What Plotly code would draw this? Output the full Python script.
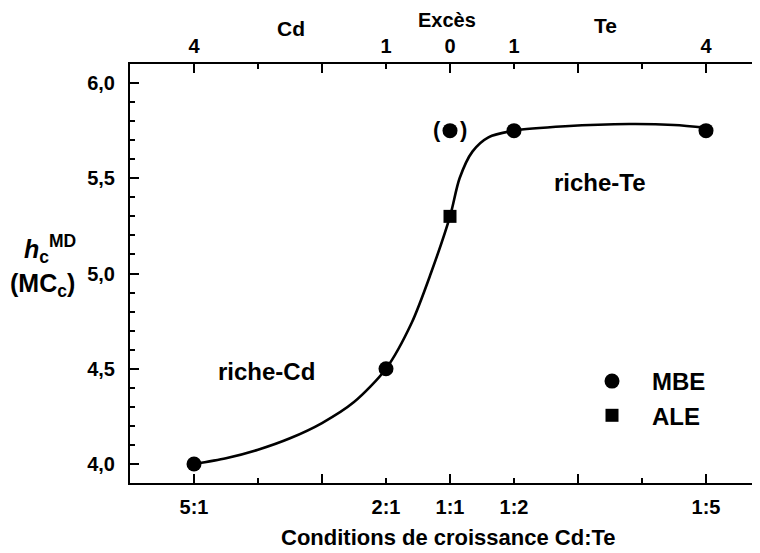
import plotly.graph_objects as go

# ---------------- data ----------------
mbe_x = [-4, -1, 1, 4]
mbe_y = [4.0, 4.5, 5.75, 5.75]
mbe_doubtful_x = [0]
mbe_doubtful_y = [5.75]
ale_x = [0]
ale_y = [5.3]
curve_x = [-4, -3.5, -3.0, -2.5, -2.0, -1.5, -1.0, -0.6, -0.3, 0.0, 0.15, 0.35, 0.6, 1.0, 1.8, 2.8, 3.5, 4.0]
curve_y = [4.0, 4.03, 4.075, 4.135, 4.215, 4.325, 4.5, 4.74, 5.0, 5.30, 5.50, 5.64, 5.715, 5.75, 5.773, 5.785, 5.78, 5.765]
tick_vals = [-4, -1, 0, 1, 4]
ratio_labels = ["5:1", "2:1", "1:1", "1:2", "1:5"]
excess_labels = ["4", "1", "0", "1", "4"]

# ---------------- layout helpers ----------------
OFF = 8                      # default page body margin
WIN_W, WIN_H = 760, 553
W, H = WIN_W - OFF, WIN_H - OFF
PL, PT, PB = 130, 64, 483    # plot area edges in window pixels
L, R, T, B = PL - OFF, 0, PT - OFF, WIN_H - PB
PW, PH = W - L - R, H - T - B
FONT = "Liberation Sans, Arial, sans-serif"
XR = [-5, -5 + PW / 64.0]
YR = [3.9, 6.1]


def py(p):
    return (PB - p) / PH


def px(p):
    return (p - PL) / PW


fig = go.Figure()
fig.add_trace(go.Scatter(x=curve_x, y=curve_y, mode="lines",
                         line=dict(color="black", width=2.6, shape="spline", smoothing=0.8),
                         showlegend=False, hoverinfo="skip"))
fig.add_trace(go.Scatter(x=mbe_x, y=mbe_y, mode="markers", name="MBE",
                         marker=dict(symbol="circle", size=15, color="black"),
                         legendgroup="a"))
fig.add_trace(go.Scatter(x=mbe_doubtful_x, y=mbe_doubtful_y, mode="markers", name="MBE",
                         marker=dict(symbol="circle", size=15, color="black"),
                         showlegend=False))
fig.add_trace(go.Scatter(x=ale_x, y=ale_y, mode="markers", name="ALE",
                         marker=dict(symbol="square", size=13, color="black"),
                         legendgroup="b"))

axis_common = dict(showgrid=False, zeroline=False, range=XR, automargin=False)

fig.update_layout(
    width=W, height=H,
    margin=dict(l=L, r=R, t=T, b=B, autoexpand=False),
    paper_bgcolor="white", plot_bgcolor="white",
    separators=", ",
    font=dict(family=FONT, size=19, color="black", weight="bold"),
    xaxis=dict(**axis_common, showline=True, linecolor="black", linewidth=2,
               mirror="ticks", ticks="inside", tickmode="linear", tick0=0, dtick=2,
               ticklen=9, tickwidth=2, tickcolor="black", showticklabels=False,
               minor=dict(ticks="inside", tickmode="linear", tick0=0, dtick=1,
                          ticklen=5, tickwidth=2, tickcolor="black")),
    xaxis2=dict(**axis_common, overlaying="x", side="bottom", anchor="y",
                tickmode="array", tickvals=tick_vals, ticktext=ratio_labels,
                ticks="", showline=False, ticklabelstandoff=10,
                tickfont=dict(size=20, family=FONT, weight="bold")),
    xaxis3=dict(**axis_common, overlaying="x", side="top", anchor="y",
                tickmode="array", tickvals=tick_vals, ticktext=excess_labels,
                ticks="", showline=False, ticklabelstandoff=6,
                tickfont=dict(size=20, family=FONT, weight="bold")),
    yaxis=dict(range=YR, showgrid=False, zeroline=False, showline=True, automargin=False,
               linecolor="black", linewidth=2, ticks="inside", tickmode="linear",
               tick0=4.0, dtick=0.5, ticklen=9, tickwidth=2, tickcolor="black",
               tickformat=".1f", ticklabelstandoff=9,
               tickfont=dict(size=20, family=FONT, weight="bold"),
               minor=dict(ticks="inside", tickmode="linear", tick0=4.0, dtick=0.1,
                          ticklen=5, tickwidth=2, tickcolor="black")),
    legend=dict(x=px(572), y=py(359), xanchor="left", yanchor="top",
                font=dict(size=24, family=FONT, weight="bold"),
                itemwidth=70, traceorder="grouped", tracegroupgap=0,
                bgcolor="rgba(0,0,0,0)"),
    showlegend=True,
)

# dummy traces to activate overlay axes
fig.add_trace(go.Scatter(x=[None], y=[None], xaxis="x2", showlegend=False, hoverinfo="skip"))
fig.add_trace(go.Scatter(x=[None], y=[None], xaxis="x3", showlegend=False, hoverinfo="skip"))

C = dict(showarrow=False, xanchor="center", yanchor="middle")
ann = []
ann.append(dict(text="riche-Cd", x=-2.875, y=4.483, xref="x", yref="y", font=dict(size=24), **C))
ann.append(dict(text="riche-Te", x=2.344, y=5.48, xref="x", yref="y", font=dict(size=24), **C))
ann.append(dict(text="(", x=0, y=5.75, xref="x", yref="y", xshift=-13.5, yshift=1,
                font=dict(size=22), **C))
ann.append(dict(text=")", x=0, y=5.75, xref="x", yref="y", xshift=13.5, yshift=1,
                font=dict(size=22), **C))
ann.append(dict(text="Cd", x=px(291), y=py(28), xref="paper", yref="paper",
                font=dict(size=21), **C))
ann.append(dict(text="Excès", x=px(447), y=py(19.5), xref="paper", yref="paper",
                font=dict(size=20), **C))
ann.append(dict(text="Te", x=px(605), y=py(26), xref="paper", yref="paper",
                font=dict(size=21), **C))
ann.append(dict(text="Conditions de croissance Cd:Te", x=px(448), y=py(537),
                xref="paper", yref="paper", font=dict(size=22), **C))
ann.append(dict(text="<i>h</i><sub>c</sub><sup>MD</sup>", x=px(50), y=py(249),
                xref="paper", yref="paper", font=dict(size=25), **C))
ann.append(dict(text="(MC<sub>c</sub>)", x=px(42), y=py(285),
                xref="paper", yref="paper", font=dict(size=25), **C))
fig.update_layout(annotations=ann)

fig.write_html("out.html")
